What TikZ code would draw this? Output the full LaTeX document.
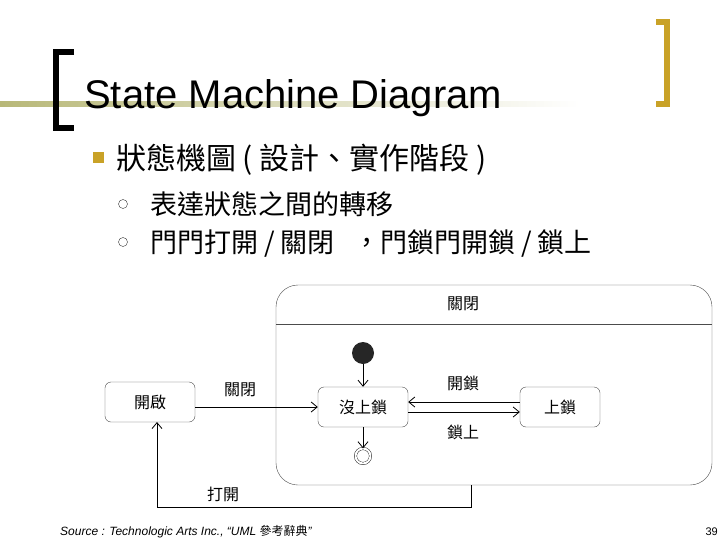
\documentclass[tikz,border=0pt]{standalone}
\usepackage{fontspec}
\setmainfont{Liberation Sans}
\newfontfamily\cjk{Noto Sans CJK TC}
\usetikzlibrary{arrows.meta}
\definecolor{gold}{HTML}{C9A227}
\definecolor{olive}{HTML}{B8B878}
\tikzset{
 st/.style={draw=black!70,rounded corners=6pt,minimum width=92pt,minimum height=40pt,font=\cjk\fontsize{16}{18}\selectfont},
 lbl/.style={font=\cjk\fontsize{16}{18}\selectfont},
 arr/.style={draw,thick,-{Straight Barb[length=6pt,width=10pt]}},
 sub/.style={circle,draw=black!80,thin,minimum size=9pt,inner sep=0}
}
\begin{document}
\begin{tikzpicture}[x=1pt,y=-1pt]
\useasboundingbox (0,0) rectangle (728,546);
\fill[white] (0,0) rectangle (728,546);
% decorations
\shade[left color=olive, right color=white] (0,101) rectangle (580,106);
\draw[line width=6pt] (74,52) -- (56,52) -- (56,128) -- (74,128);
\draw[line width=6pt,gold] (656,22) -- (667,22) -- (667,104) -- (656,104);
\node[anchor=base west,font=\fontsize{40}{44}\selectfont,inner sep=0] (title) at (84,108) {State Machine Diagram};
\fill[gold] (93,152) rectangle (104,163);
\node[anchor=base west,font=\cjk\fontsize{30}{34}\selectfont,inner sep=0] (b1) at (116,169) {狀態機圖 ( 設計、實作階段 )};
\node[sub] (c1) at (123,204) {};
\node[anchor=base west,font=\cjk\fontsize{27}{30}\selectfont,inner sep=0] (b2) at (150,214) {表達狀態之間的轉移};
\node[sub] (c2) at (123,242) {};
\node[anchor=base west,font=\cjk\fontsize{27}{30}\selectfont,inner sep=0] (b3) at (150,252) {門門打開 / 關閉\ \ \ ，門鎖門開鎖 / 鎖上};
% diagram
\draw[black!70,rounded corners=22pt] (276,285) rectangle (712,485);
\draw[black!70] (276,324) -- (712,324);
\node[lbl] (comp) at (463,304) {關閉};
\node[st,minimum width=90pt,minimum height=40pt] (open) at (150,402) {開啟};
\node[st,minimum width=90pt,minimum height=40pt] (unl) at (363,407) {沒上鎖};
\node[st,minimum width=80pt,minimum height=40pt] (lock) at (560,407) {上鎖};
\node[circle,fill=black!85,minimum size=22pt,inner sep=0] (init) at (363,353) {};
\node[circle,draw,double,double distance=2pt,fill=white,minimum size=15pt,inner sep=0] (fin) at (363,456) {};
\draw[arr] (init) -- (unl);
\draw[arr] (unl) -- (fin);
\draw[arr] (open.east|-unl.west) -- (unl.west);
\node[lbl] (lc) at (240,390) {關閉};
\draw[arr] ([yshift=5pt]lock.west) -- ([yshift=5pt]unl.east);
\draw[arr] ([yshift=-5pt]unl.east) -- ([yshift=-5pt]lock.west);
\node[lbl] (lo) at (463,383) {開鎖};
\node[lbl] (ll) at (463,432) {鎖上};
\coordinate (cb) at (471,485);
\draw[arr] (cb) |- (157,507) -- (157,422);
\node[lbl] (op) at (223,494) {打開};
\node[anchor=base west,font=\itshape\fontsize{12}{14}\selectfont,inner sep=0] (src) at (60,535) {Source : Technologic Arts Inc., “UML {\cjk 參考辭典}”};
\node[anchor=base east,font=\fontsize{11}{12}\selectfont,inner sep=0] (pg) at (718,535) {39};
\end{tikzpicture}
\end{document}
